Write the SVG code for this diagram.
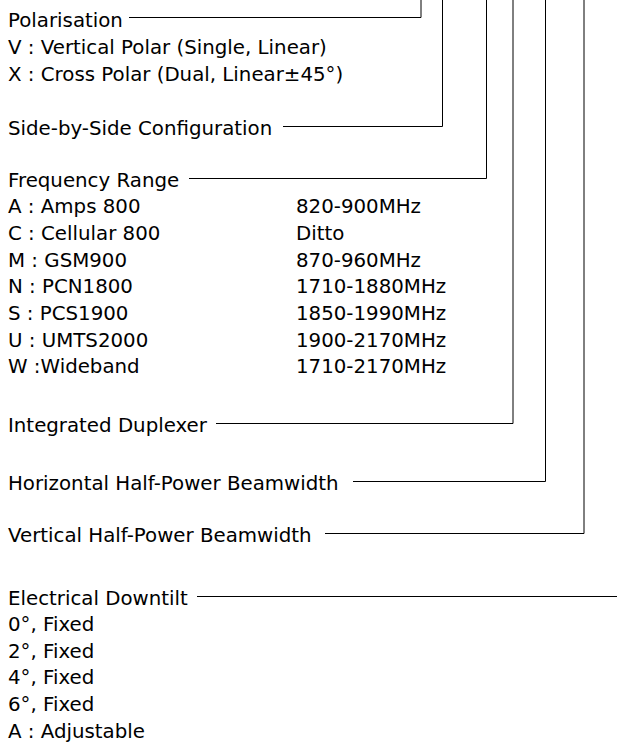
<svg xmlns="http://www.w3.org/2000/svg" width="617" height="745" viewBox="0 0 617 745">
<style>
text{font-family:"DejaVu Sans","Verdana",sans-serif;font-size:19.8px;fill:#000}
.c{fill:none;stroke:#000;stroke-width:1}
</style>
<rect width="617" height="745" fill="#fff"/>
<g id="connectors">
<polyline class="c" points="129,17.5 421,17.5 421,0"/>
<polyline class="c" points="283,126.5 442.5,126.5 442.5,0"/>
<polyline class="c" points="189,178.5 486.5,178.5 486.5,0"/>
<polyline class="c" points="216,423.5 513,423.5 513,0"/>
<polyline class="c" points="353,481.5 545.5,481.5 545.5,0"/>
<polyline class="c" points="325,533.5 584,533.5 584,0"/>
<line class="c" x1="197" y1="596.5" x2="617" y2="596.5"/>
</g>
<g id="polarisation">
<text x="8" y="26.5">Polarisation</text>
<text x="8" y="54">V : Vertical Polar (Single, Linear)</text>
<text x="8" y="80.7">X : Cross Polar (Dual, Linear±45°)</text>
</g>
<g id="side-by-side">
<text x="8" y="135">Side-by-Side Configuration</text>
</g>
<g id="frequency-range">
<text x="8" y="187">Frequency Range</text>
<text x="8" y="213.3">A : Amps 800</text>
<text x="8" y="240">C : Cellular 800</text>
<text x="8" y="266.7">M : GSM900</text>
<text x="8" y="293.3">N : PCN1800</text>
<text x="8" y="320">S : PCS1900</text>
<text x="8" y="346.7">U : UMTS2000</text>
<text x="8" y="373.3">W :Wideband</text>
<text x="296" y="213.3">820-900MHz</text>
<text x="296" y="240">Ditto</text>
<text x="296" y="266.7">870-960MHz</text>
<text x="296" y="293.3">1710-1880MHz</text>
<text x="296" y="320">1850-1990MHz</text>
<text x="296" y="346.7">1900-2170MHz</text>
<text x="296" y="373.3">1710-2170MHz</text>
</g>
<g id="integrated-duplexer">
<text x="8" y="431.8">Integrated Duplexer</text>
</g>
<g id="horizontal-hpbw">
<text x="8" y="489.5">Horizontal Half-Power Beamwidth</text>
</g>
<g id="vertical-hpbw">
<text x="8" y="542">Vertical Half-Power Beamwidth</text>
</g>
<g id="electrical-downtilt">
<text x="8" y="604.5">Electrical Downtilt</text>
<text x="8" y="631">0°, Fixed</text>
<text x="8" y="657.7">2°, Fixed</text>
<text x="8" y="684.3">4°, Fixed</text>
<text x="8" y="711">6°, Fixed</text>
<text x="8" y="737.7">A : Adjustable</text>
</g>
</svg>
